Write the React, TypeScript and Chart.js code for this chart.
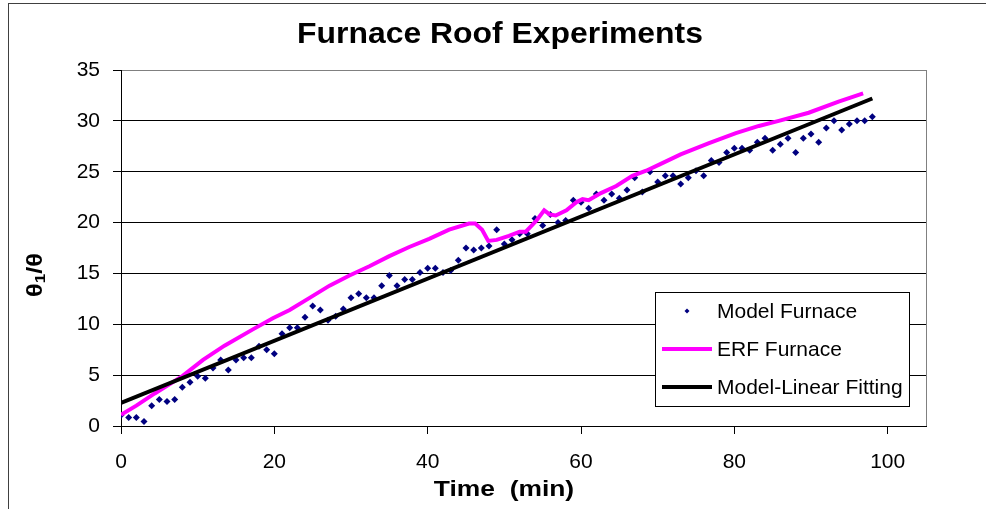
import React, { useEffect, useRef } from 'react';
import { Chart, registerables } from 'chart.js';

Chart.register(...registerables);

const chartTitle = 'Furnace Roof Experiments';
const xAxisTitle = 'Time  (min)';
const seriesNames = ['Model Furnace', 'ERF Furnace', 'Model-Linear Fitting'];

const modelTime = [
  0, 1, 2, 3, 4, 5, 6, 7, 8, 9, 10, 11, 12, 13, 14, 15, 16, 17, 18, 19,
  20, 21, 22, 23, 24, 25, 26, 27, 28, 29, 30, 31, 32, 33, 34, 35, 36, 37, 38, 39,
  40, 41, 42, 43, 44, 45, 46, 47, 48, 49, 50, 51, 52, 53, 54, 55, 56, 57, 58, 59,
  60, 61, 62, 63, 64, 65, 66, 67, 68, 69, 70, 71, 72, 73, 74, 75, 76, 77, 78, 79,
  80, 81, 82, 83, 84, 85, 86, 87, 88, 89, 90, 91, 92, 93, 94, 95, 96, 97, 98,
];
const modelFurnace = [
  1.05, 0.83, 0.83, 0.44, 2.0, 2.6, 2.4, 2.6, 3.8, 4.3, 4.9, 4.7, 5.7, 6.5, 5.5, 6.5, 6.7, 6.7, 7.85, 7.5,
  7.1, 9.07, 9.66, 9.66, 10.7, 11.8, 11.4, 10.4, 10.8, 11.5, 12.6, 13.0, 12.6, 12.6, 13.8, 14.8, 13.8, 14.4, 14.4, 15.1,
  15.5, 15.5, 15.1, 15.3, 16.3, 17.5, 17.3, 17.5, 17.7, 19.3, 17.9, 18.3, 18.9, 18.9, 20.4, 19.7, 20.8, 20.0, 20.2, 22.2,
  22.0, 21.4, 22.8, 22.2, 22.8, 22.4, 23.2, 24.4, 23.0, 25.0, 24.0, 24.6, 24.6, 23.8, 24.4, 25.1, 24.6, 26.1, 25.9, 26.9,
  27.3, 27.3, 27.1, 27.9, 28.3, 27.1, 27.7, 28.3, 26.9, 28.3, 28.7, 27.9, 29.3, 30.0, 29.1, 29.7, 30.0, 30.0, 30.4,
];

const erfTime = [
  0, 2, 4.4, 8, 10.7, 13.5, 17.2, 19.8, 22, 24.6, 27.2, 29.8, 32.4, 35, 37.6, 40.2, 42.8, 45.4, 46.2, 47.1,
  47.9, 49, 50.6, 52, 52.8, 54.2, 55.2, 55.9, 56.7, 58.1, 59.4, 60.2, 61, 62.6, 64.6, 66.7, 68.5, 70.2, 73, 76.7,
  80.2, 83.2, 85.8, 89.7, 93.6, 96.8,
];
const erfFurnace = [
  1.1, 2.0, 3.2, 4.9, 6.5, 7.9, 9.5, 10.6, 11.4, 12.6, 13.8, 14.8, 15.7, 16.7, 17.6, 18.4, 19.3, 19.9, 19.9, 19.3,
  18.2, 18.3, 18.7, 19.1, 19.1, 20.2, 21.2, 20.8, 20.7, 21.2, 22.0, 22.3, 22.2, 22.9, 23.6, 24.6, 25.1, 25.7, 26.7, 27.8,
  28.8, 29.5, 30.0, 30.8, 31.9, 32.7,
];

const fitTime = [0, 98];
const fitValue = [2.27, 32.2];

const xTicks = [0, 20, 40, 60, 80, 100];
const yTicks = [0, 5, 10, 15, 20, 25, 30, 35];

const FONT = 'Arial, "Liberation Sans", sans-serif';
const NAVY = '#000080';
const MAGENTA = '#FF00FF';

function stretchedText(ctx: any, text: string, cx: number, cy: number, sx: number) {
  ctx.save();
  ctx.translate(cx, cy);
  ctx.scale(sx, 1);
  ctx.fillText(text, 0, 0);
  ctx.restore();
}

const decorPlugin = {
  id: 'decor',
  beforeDraw(chart: any) {
    const ctx = chart.ctx;
    ctx.save();
    ctx.fillStyle = '#ffffff';
    ctx.fillRect(0, 0, chart.width, chart.height);
    ctx.restore();
  },
  afterDraw(chart: any) {
    const ctx = chart.ctx;
    const area = chart.chartArea;
    ctx.save();

    // plot area right border (grey)
    ctx.strokeStyle = '#808080';
    ctx.lineWidth = 1;
    ctx.beginPath();
    ctx.moveTo(Math.round(area.right) + 0.5, area.top);
    ctx.lineTo(Math.round(area.right) + 0.5, area.bottom);
    ctx.stroke();

    // outer chart border
    ctx.strokeStyle = '#404040';
    ctx.lineWidth = 1;
    ctx.strokeRect(8.5, 3.5, 1200, 800);

    // title
    ctx.fillStyle = '#000';
    ctx.textAlign = 'center';
    ctx.textBaseline = 'middle';
    ctx.font = `bold 29px ${FONT}`;
    stretchedText(ctx, chartTitle, 500, 35, 1.1);

    // x title
    ctx.font = `bold 22px ${FONT}`;
    stretchedText(ctx, xAxisTitle, 504, 490, 1.2);

    // y title: θ1/θ with subscript
    ctx.save();
    ctx.translate(36, 275);
    ctx.rotate(-Math.PI / 2);
    ctx.scale(1.15, 1);
    ctx.textAlign = 'left';
    ctx.textBaseline = 'middle';
    const bigFont = `bold 22px ${FONT}`;
    const smallFont = `bold 15px ${FONT}`;
    ctx.font = bigFont;
    const w1 = ctx.measureText('θ').width;
    const w3 = ctx.measureText('/θ').width;
    ctx.font = smallFont;
    const w2 = ctx.measureText('1').width;
    let x0 = -(w1 + w2 + w3) / 2;
    ctx.font = bigFont;
    ctx.fillText('θ', x0, 0);
    x0 += w1;
    ctx.font = smallFont;
    ctx.fillText('1', x0, 5);
    x0 += w2;
    ctx.font = bigFont;
    ctx.fillText('/θ', x0, 0);
    ctx.restore();

    // legend
    const lx = 655.5, ly = 292.5, lw = 254, lh = 114;
    ctx.fillStyle = '#ffffff';
    ctx.fillRect(lx, ly, lw, lh);
    ctx.strokeStyle = '#000';
    ctx.lineWidth = 1;
    ctx.strokeRect(lx, ly, lw, lh);

    const rows = [311, 349, 387];
    ctx.fillStyle = NAVY;
    ctx.beginPath();
    ctx.moveTo(687, rows[0] - 2.5);
    ctx.lineTo(689.5, rows[0]);
    ctx.lineTo(687, rows[0] + 2.5);
    ctx.lineTo(684.5, rows[0]);
    ctx.closePath();
    ctx.fill();
    ctx.lineWidth = 4;
    ctx.strokeStyle = MAGENTA;
    ctx.beginPath();
    ctx.moveTo(662, rows[1]);
    ctx.lineTo(712, rows[1]);
    ctx.stroke();
    ctx.strokeStyle = '#000';
    ctx.beginPath();
    ctx.moveTo(662, rows[2]);
    ctx.lineTo(712, rows[2]);
    ctx.stroke();

    ctx.fillStyle = '#000';
    ctx.font = `21px ${FONT}`;
    ctx.textAlign = 'left';
    ctx.textBaseline = 'middle';
    seriesNames.forEach((name, i) => ctx.fillText(name, 717, rows[i] + 1));

    ctx.restore();
  },
};

export default function App() {
  const canvasRef = useRef<HTMLCanvasElement | null>(null);

  useEffect(() => {
    const canvas = canvasRef.current;
    if (!canvas) return;
    const chart = new Chart(canvas, {
      type: 'scatter',
      data: {
        datasets: [
          {
            label: seriesNames[0],
            data: modelTime.map((t, i) => ({ x: t, y: modelFurnace[i] })),
            pointStyle: 'rectRot',
            pointRadius: 3.5,
            pointBackgroundColor: NAVY,
            pointBorderWidth: 0,
            borderWidth: 0,
            showLine: false,
            order: 3,
          },
          {
            label: seriesNames[1],
            data: erfTime.map((t, i) => ({ x: t, y: erfFurnace[i] })),
            showLine: true,
            borderColor: MAGENTA,
            borderWidth: 4,
            pointRadius: 0,
            tension: 0,
            order: 2,
          },
          {
            label: seriesNames[2],
            data: fitTime.map((t, i) => ({ x: t, y: fitValue[i] })),
            showLine: true,
            borderColor: '#000000',
            borderWidth: 4,
            pointRadius: 0,
            order: 1,
          },
        ],
      },
      options: {
        animation: false,
        responsive: false,
        devicePixelRatio: 1,
        layout: { padding: { left: 0, right: 60, top: 70, bottom: 0 } },
        plugins: {
          legend: { display: false },
          tooltip: { enabled: false },
          title: { display: false },
        },
        scales: {
          x: {
            type: 'linear',
            min: 0,
            max: 105,
            afterBuildTicks: (s: any) => {
              s.ticks = xTicks.map((v) => ({ value: v }));
            },
            afterFit: (s: any) => {
              s.height = 83;
            },
            ticks: {
              color: '#000',
              font: { family: FONT, size: 21 },
              padding: 16,
              maxRotation: 0,
              autoSkip: false,
            },
            grid: {
              display: true,
              drawOnChartArea: false,
              drawTicks: true,
              tickLength: 8,
              color: '#000',
              lineWidth: 1,
            },
            border: { display: true, color: '#000', width: 1 },
          },
          y: {
            type: 'linear',
            min: 0,
            max: 35,
            afterBuildTicks: (s: any) => {
              s.ticks = yTicks.map((v) => ({ value: v }));
            },
            afterFit: (s: any) => {
              s.width = 121;
            },
            ticks: {
              color: '#000',
              font: { family: FONT, size: 21 },
              padding: 13,
              autoSkip: false,
            },
            grid: {
              display: true,
              drawTicks: true,
              tickLength: 8,
              color: (c: any) => (c.tick && c.tick.value === 35 ? '#808080' : '#000'),
              tickColor: '#000',
              lineWidth: 1,
            },
            border: { display: true, color: '#000', width: 1 },
          },
        },
      },
      plugins: [decorPlugin],
    } as any);
    return () => chart.destroy();
  }, []);

  return (
    <div style={{ position: 'absolute', left: 0, top: 0, width: 986, height: 509, background: '#fff' }}>
      <canvas ref={canvasRef} width={986} height={509} style={{ width: 986, height: 509, display: 'block' }} />
    </div>
  );
}
